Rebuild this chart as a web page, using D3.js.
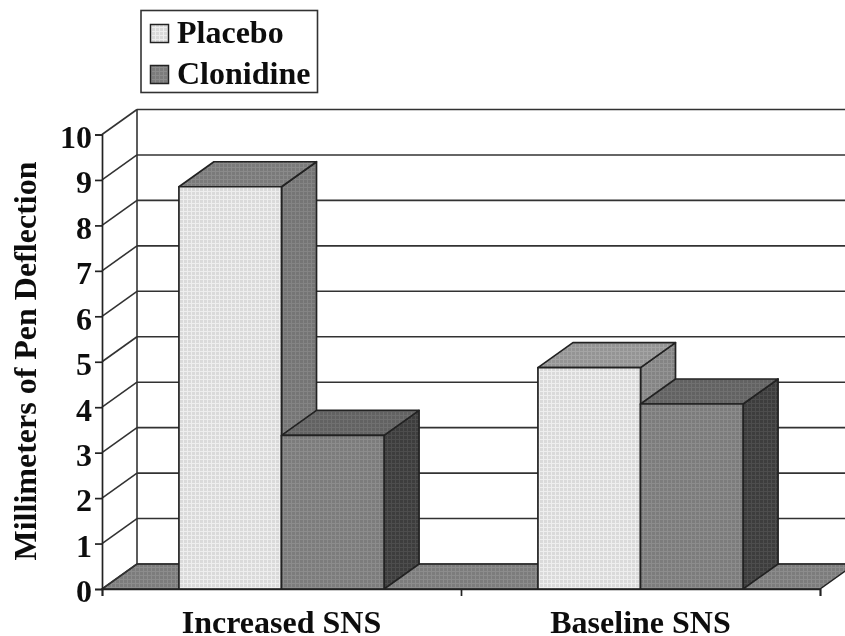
<!DOCTYPE html>
<html>
<head>
<meta charset="utf-8">
<script src="https://cdn.jsdelivr.net/npm/d3@7"></script>
<style>
  body { margin: 0; background: #fff; }
  text { font-family: "Liberation Serif", serif; font-weight: bold; fill: #111; }
</style>
</head>
<body>
<div id="chart"></div>
<script>
const categories = ["Increased SNS", "Baseline SNS"];
const seriesNames = ["Placebo", "Clonidine"];
const placebo = [8.85, 4.87];
const clonidine = [3.38, 4.07];
const yTicks = [0, 1, 2, 3, 4, 5, 6, 7, 8, 9, 10];

const width = 845, height = 636;
const plotLeft = 102, plotRight = 820, plotBottom = 589, plotTop = 134.5;
const depthX = 35, depthY = -25;
const fontSize = "32px";

const x = d3.scaleBand().domain(categories).range([plotLeft, plotRight]).paddingInner(0).paddingOuter(0);
const xBar = d3.scaleBand().domain(seriesNames).range([0, x.bandwidth()]).paddingInner(0).paddingOuter(0.75);
const y = d3.scaleLinear().domain([0, 10]).range([plotBottom, plotTop]);

const svg = d3.select("#chart").append("svg")
  .attr("width", width)
  .attr("height", height)
  .style("display", "block");

// halftone look of the scanned figure
const defs = svg.append("defs");
function halftone(id, base, dot) {
  const p = defs.append("pattern")
    .attr("id", id)
    .attr("width", 4)
    .attr("height", 4)
    .attr("patternUnits", "userSpaceOnUse");
  p.append("rect").attr("width", 4).attr("height", 4).attr("fill", base);
  p.append("rect").attr("width", 3).attr("height", 3).attr("fill", dot);
}
halftone("placeboFront", "#eeeeee", "#dadada");
halftone("placeboTop1", "#8a8a8a", "#7a7a7a");
halftone("placeboSide1", "#848484", "#747474");
halftone("placeboTop2", "#a4a4a4", "#949494");
halftone("placeboSide2", "#949494", "#848484");
halftone("clonFront", "#8c8c8c", "#7c7c7c");
halftone("clonTop", "#707070", "#626262");
halftone("clonSide", "#4e4e4e", "#3e3e3e");
halftone("floor", "#8c8c8c", "#7c7c7c");

// slight softening, the reference is a scan
defs.append("filter")
  .attr("id", "soft")
  .append("feGaussianBlur")
  .attr("stdDeviation", 0.45);

const root = svg.append("g").attr("filter", "url(#soft)");
root.append("rect").attr("width", width).attr("height", height).attr("fill", "#fff");

const line = d3.line();
const stroke = "#222";

// floor
root.append("path")
  .attr("d", line([[plotLeft, plotBottom], [plotLeft + depthX, plotBottom + depthY], [plotRight + depthX, plotBottom + depthY], [plotRight, plotBottom]]) + "Z")
  .attr("fill", "url(#floor)")
  .attr("stroke", stroke)
  .attr("stroke-width", 1.5);

// back wall grid and side wall lines
root.append("g")
  .selectAll("line")
  .data(yTicks)
  .join("line")
  .attr("x1", plotLeft + depthX)
  .attr("x2", width)
  .attr("y1", d => y(d) + depthY)
  .attr("y2", d => y(d) + depthY)
  .attr("stroke", "#333")
  .attr("stroke-width", 1.6);

root.append("g")
  .selectAll("line")
  .data(yTicks)
  .join("line")
  .attr("x1", plotLeft)
  .attr("x2", plotLeft + depthX)
  .attr("y1", d => y(d))
  .attr("y2", d => y(d) + depthY)
  .attr("stroke", "#333")
  .attr("stroke-width", 1.6);

root.append("line")
  .attr("x1", plotLeft + depthX)
  .attr("x2", plotLeft + depthX)
  .attr("y1", y(10) + depthY)
  .attr("y2", y(0) + depthY)
  .attr("stroke", "#333")
  .attr("stroke-width", 1.6);

// bars
function drawBar(g, cat, name, val, front, topFill, side) {
  const x0 = x(cat) + xBar(name);
  const x1 = x0 + xBar.bandwidth();
  const yv = y(val);
  g.append("path")
    .attr("d", line([[x1, yv], [x1 + depthX, yv + depthY], [x1 + depthX, plotBottom + depthY], [x1, plotBottom]]) + "Z")
    .attr("fill", side);
  g.append("path")
    .attr("d", line([[x0, yv], [x0 + depthX, yv + depthY], [x1 + depthX, yv + depthY], [x1, yv]]) + "Z")
    .attr("fill", topFill);
  g.append("rect")
    .attr("x", x0)
    .attr("y", yv)
    .attr("width", x1 - x0)
    .attr("height", plotBottom - yv)
    .attr("fill", front);
  g.selectAll("*")
    .attr("stroke", stroke)
    .attr("stroke-width", 1.7)
    .attr("stroke-linejoin", "round");
}

const bars = root.append("g");
categories.forEach((c, i) => {
  const n = i + 1;
  drawBar(bars.append("g"), c, seriesNames[0], placebo[i], "url(#placeboFront)", `url(#placeboTop${n})`, `url(#placeboSide${n})`);
  drawBar(bars.append("g"), c, seriesNames[1], clonidine[i], "url(#clonFront)", "url(#clonTop)", "url(#clonSide)");
});

// axes
const yAxis = root.append("g")
  .attr("transform", `translate(${plotLeft},0)`)
  .call(d3.axisLeft(y).tickValues(yTicks).tickSize(7).tickPadding(3));
yAxis.selectAll("text")
  .attr("dy", "0.4em")
  .style("font-size", fontSize);

const xAxis = root.append("g")
  .attr("transform", `translate(0,${plotBottom})`)
  .call(d3.axisBottom(d3.scaleLinear().domain([0, 2]).range([plotLeft, plotRight])).tickValues([0, 1, 2]).tickSize(7).tickFormat(""));

[yAxis, xAxis].forEach(a => {
  a.selectAll("path,line").attr("stroke", "#222").attr("stroke-width", 1.7);
});

root.append("g")
  .selectAll("text")
  .data(categories)
  .join("text")
  .attr("x", d => x(d) + x.bandwidth() / 2)
  .attr("y", 633)
  .attr("text-anchor", "middle")
  .style("font-size", fontSize)
  .text(d => d);

root.append("text")
  .attr("transform", "translate(36,361) rotate(-90)")
  .attr("text-anchor", "middle")
  .style("font-size", fontSize)
  .text("Millimeters of Pen Deflection");

// legend
const legend = root.append("g");
legend.append("rect")
  .attr("x", 141)
  .attr("y", 10.5)
  .attr("width", 176.5)
  .attr("height", 82)
  .attr("fill", "#fff")
  .attr("stroke", "#333")
  .attr("stroke-width", 1.6);
const legendY = d3.scalePoint().domain(seriesNames).range([33.5, 74.5]);
const legendFill = ["url(#placeboFront)", "url(#clonFront)"];
seriesNames.forEach((name, i) => {
  legend.append("rect")
    .attr("x", 150.5)
    .attr("y", legendY(name) - 9)
    .attr("width", 18)
    .attr("height", 18)
    .attr("fill", legendFill[i])
    .attr("stroke", "#222")
    .attr("stroke-width", 1.5);
  legend.append("text")
    .attr("x", 177)
    .attr("y", legendY(name) + 9.5)
    .style("font-size", fontSize)
    .text(name);
});
</script>
</body>
</html>
